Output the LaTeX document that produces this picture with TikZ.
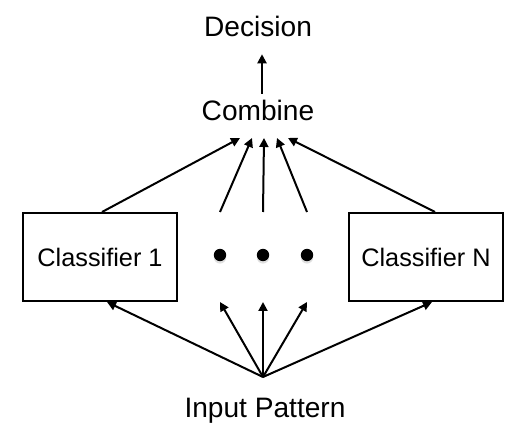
\documentclass[tikz,border=0pt]{standalone}
\usepackage{fontspec}
\setmainfont{Liberation Sans}
\usetikzlibrary{arrows.meta,shadows}
\tikzset{
  >={Triangle[length=0.45cm,width=0.45cm]},
  every path/.style={line width=0.1cm},
  label/.style={inner sep=0pt,font=\fontsize{40}{48}\selectfont},
  classbox/.style={draw,line width=0.1cm,minimum width=7.7cm,minimum height=4.4cm,
    font=\fontsize{36}{43}\selectfont},
  dotmark/.style={circle,fill=black,inner sep=0pt,minimum size=0.62cm,
    drop shadow={shadow xshift=0cm,shadow yshift=-0.12cm,opacity=0.25}}
}
\begin{document}
\begin{tikzpicture}
        \useasboundingbox (0,0) rectangle (26.3,22.05);
        \node[label,anchor=base] (decision) at (12.9,20.2) {Decision};
        \node[label,anchor=base] (combine) at (12.9,16.0) {Combine};
        \node[label,anchor=base] (input) at (13.25,1.2) {Input Pattern};
        \node[classbox] (c1) at (5.0,9.2) {Classifier 1};
        \node[classbox] (cN) at (21.3,9.2) {Classifier N};
        \node[dotmark] (d1) at (11.0,9.3) {};
        \node[dotmark] (d2) at (13.15,9.3) {};
        \node[dotmark] (d3) at (15.35,9.3) {};
        \coordinate (hub) at (13.15,3.2);
        % combine to decision
        \draw[->] ([shift={(0.2,0.3)}]combine.north) -- ([shift={(0.2,-0.8)}]decision.south);
        % into combine
        \foreach \dx [count=\i] in {-0.9,-0.3,0.3,0.95,1.5}
                \coordinate (t\i) at ([shift={(\dx,-0.85)}]combine.base);
        \draw[->] ([xshift=0.1cm]c1.north) -- (t1);
        \draw[->] (d1 |- c1.north) -- (t2);
        \draw[->] (d2 |- c1.north) -- (t3);
        \draw[->] (d3 |- c1.north) -- (t4);
        \draw[->] ([xshift=0.45cm]cN.north) -- (t5);
        % from input pattern
        \draw[->] (hub) -- ([xshift=0.35cm]c1.south);
        \draw[->] (hub) -- (d1 |- c1.south);
        \draw[->] (hub) -- (d2 |- c1.south);
        \draw[->] (hub) -- (d3 |- c1.south);
        \draw[->] (hub) -- ([xshift=0.3cm]cN.south);
\end{tikzpicture}
\end{document}
